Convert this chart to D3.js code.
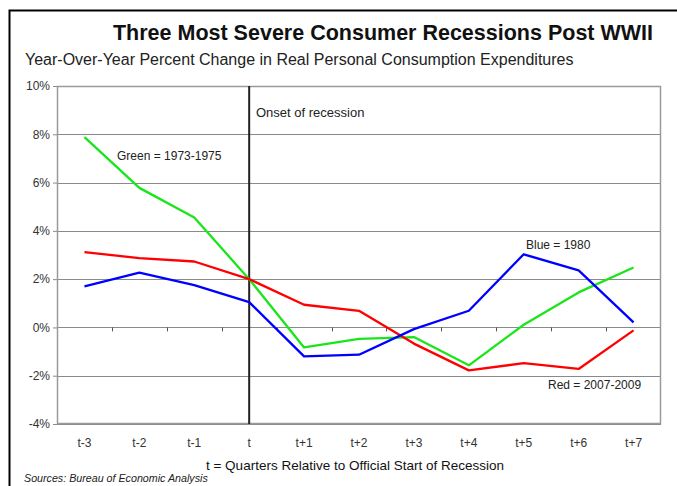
<!DOCTYPE html>
<html>
<head>
<meta charset="utf-8">
<script src="https://cdn.jsdelivr.net/npm/d3@7"></script>
<style>
  html, body { margin: 0; padding: 0; background: #fff; }
  svg { display: block; font-family: "Liberation Sans", Arial, sans-serif; }
</style>
</head>
<body>
<svg id="chart" width="677" height="486"></svg>
<script>
// Quarters relative to the official start of each recession
const quarters = ["t-3", "t-2", "t-1", "t", "t+1", "t+2", "t+3", "t+4", "t+5", "t+6", "t+7"];

// Year-over-year % change in real PCE
const green1973 = [7.88, 5.78, 4.55, 2.0, -0.83, -0.47, -0.4, -1.57, 0.11, 1.45, 2.48];
const blue1980  = [1.70, 2.27, 1.75, 1.05, -1.2, -1.13, -0.07, 0.69, 3.03, 2.36, 0.21];
const red2007   = [3.12, 2.87, 2.73, 2.0, 0.94, 0.69, -0.67, -1.78, -1.48, -1.72, -0.12];

const yTicks = [-4, -2, 0, 2, 4, 6, 8, 10];
const onsetQuarter = "t";

const series = [
  { name: "1973-1975", color: "#19e619", values: green1973 },
  { name: "2007-2009", color: "#ff0000", values: red2007 },
  { name: "1980",      color: "#0000ff", values: blue1980 }
];

const svg = d3.select("#chart");
const plot = { left: 57, top: 86, right: 661, bottom: 424 };

// Outer frame (top and left edges)
svg.append("path")
  .attr("d", "M677,10.5 H9.5 V486")
  .attr("fill", "none").attr("stroke", "#000").attr("stroke-width", 2);

svg.append("text")
  .attr("x", 383).attr("y", 40)
  .attr("text-anchor", "middle")
  .attr("font-size", 21.5).attr("font-weight", "bold").attr("fill", "#111")
  .text("Three Most Severe Consumer Recessions Post WWII");

svg.append("text")
  .attr("x", 25).attr("y", 65)
  .attr("font-size", 16).attr("fill", "#222")
  .text("Year-Over-Year Percent Change in Real Personal Consumption Expenditures");

const x = d3.scaleBand().domain(quarters).range([plot.left, plot.right]);
const y = d3.scaleLinear().domain([-4, 10]).range([plot.bottom, plot.top]);
const cx = q => x(q) + x.bandwidth() / 2;

// Horizontal gridlines
svg.append("g").selectAll("line").data(yTicks).join("line")
  .attr("x1", plot.left).attr("x2", plot.right)
  .attr("y1", d => Math.round(y(d)) + 0.5).attr("y2", d => Math.round(y(d)) + 0.5)
  .attr("stroke", "#8a8a8a").attr("stroke-width", 1);

// Plot frame
svg.append("rect")
  .attr("x", plot.left + 0.5).attr("y", plot.top + 0.5)
  .attr("width", plot.right - plot.left - 1).attr("height", plot.bottom - plot.top - 1)
  .attr("fill", "none").attr("stroke", "#9a9a9a").attr("stroke-width", 1.5);

// Y axis labels
const yAxis = d3.axisLeft(y).tickValues(yTicks).tickSize(4).tickFormat(d => d + "%");
const gy = svg.append("g").attr("transform", `translate(${plot.left},0)`).call(yAxis);
gy.select(".domain").remove();
gy.selectAll(".tick line").attr("stroke", "#8a8a8a");
gy.selectAll(".tick text")
  .attr("font-size", 12).attr("fill", "#333").attr("font-family", "Liberation Sans, Arial, sans-serif");

// Category dividers on the zero line
const bounds = quarters.slice(1).map(q => x(q));
svg.append("g").selectAll("line").data(bounds).join("line")
  .attr("x1", d => Math.round(d) + 0.5).attr("x2", d => Math.round(d) + 0.5)
  .attr("y1", y(0)).attr("y2", y(0) + 4)
  .attr("stroke", "#555").attr("stroke-width", 1);

// X axis labels
const xAxis = d3.axisBottom(x).tickSize(0).tickPadding(14);
const gx = svg.append("g").attr("transform", `translate(0,${plot.bottom})`).call(xAxis);
gx.select(".domain").remove();
gx.selectAll(".tick text")
  .attr("font-size", 12).attr("fill", "#333").attr("font-family", "Liberation Sans, Arial, sans-serif");

// Onset line
svg.append("line")
  .attr("x1", cx(onsetQuarter)).attr("x2", cx(onsetQuarter))
  .attr("y1", plot.top).attr("y2", plot.bottom)
  .attr("stroke", "#222").attr("stroke-width", 2);

// Series lines
const line = d3.line().x((d, i) => cx(quarters[i])).y(d => y(d));
svg.append("g").selectAll("path").data(series).join("path")
  .attr("d", d => line(d.values))
  .attr("fill", "none")
  .attr("stroke", d => d.color)
  .attr("stroke-width", 2.3)
  .attr("stroke-linejoin", "round");

// Annotations
const notes = [
  { text: "Onset of recession", x: 256, y: 117, size: 13 },
  { text: "Green = 1973-1975", x: 117, y: 160, size: 12 },
  { text: "Blue = 1980", x: 526, y: 249, size: 12 },
  { text: "Red = 2007-2009", x: 548, y: 389, size: 12 }
];
svg.append("g").selectAll("text").data(notes).join("text")
  .attr("x", d => d.x).attr("y", d => d.y)
  .attr("font-size", d => d.size).attr("fill", "#222")
  .text(d => d.text);

svg.append("text")
  .attr("x", 355).attr("y", 470)
  .attr("text-anchor", "middle")
  .attr("font-size", 13.5).attr("fill", "#111")
  .text("t = Quarters Relative to Official Start of Recession");

svg.append("text")
  .attr("x", 24).attr("y", 482)
  .attr("font-size", 10.7).attr("font-style", "italic").attr("fill", "#222")
  .text("Sources: Bureau of Economic Analysis");
</script>
</body>
</html>
